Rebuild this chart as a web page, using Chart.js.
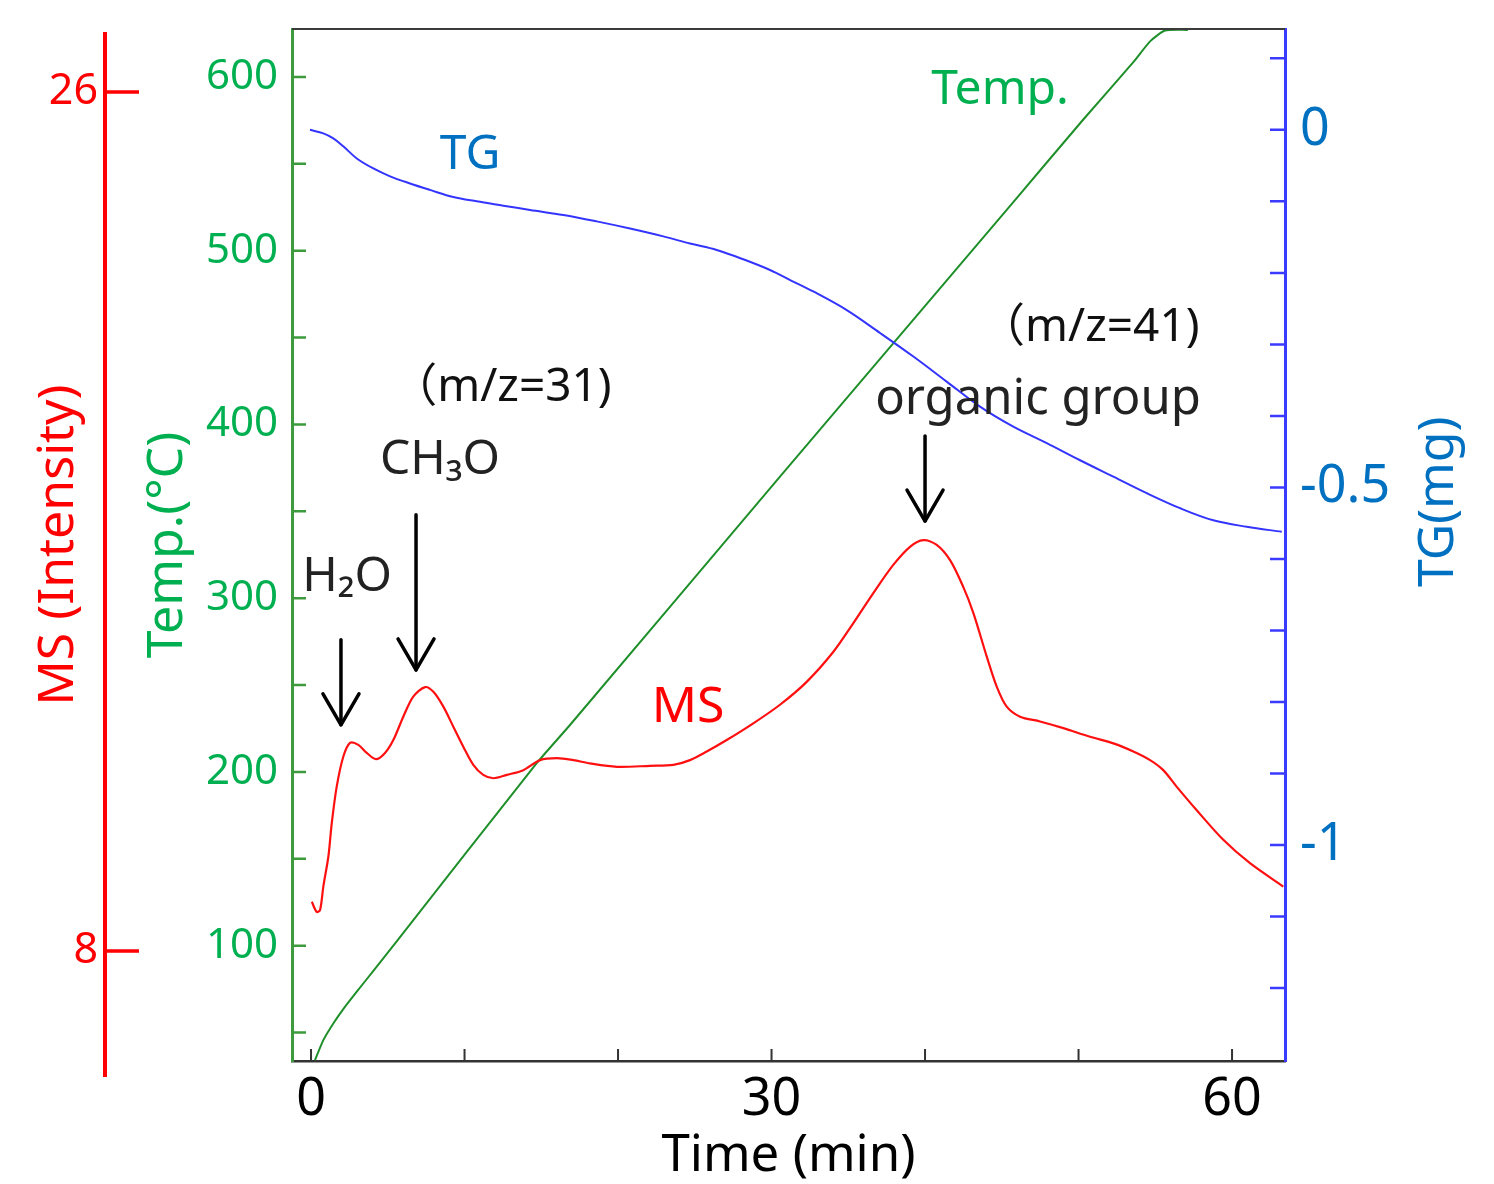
<!DOCTYPE html>
<html>
<head>
<meta charset="utf-8">
<title>TG-MS</title>
<script src="https://cdn.jsdelivr.net/npm/chart.js@4.4.1/dist/chart.umd.min.js"></script>
<style>
  html, body { margin: 0; padding: 0; background: #fff; }
  #tgms { display: block; }
</style>
</head>
<body>
<canvas id="tgms" width="1494" height="1184"></canvas>
<script>
// MS (m/z) trace, time in minutes
const msTime = [0.05, 0.37, 0.59, 0.80, 1.13, 1.35, 1.67, 2.10, 2.54, 3.08, 3.63, 4.23, 4.82, 5.36, 6.01,
  6.66, 7.43, 7.97, 8.62, 9.27, 9.92, 10.57, 11.22, 11.88, 12.75, 13.83, 14.92, 16.01, 17.09, 18.18,
  19.92, 22.08, 23.60, 24.69, 25.78, 27.08, 28.81, 30.55, 32.29, 34.03, 35.33, 36.63, 37.93, 39.02, 39.89,
  40.76, 41.63, 42.49, 43.15, 44.02, 44.67, 45.32, 46.19, 47.49, 49.01, 50.75, 52.27, 53.57, 54.66, 55.52,
  56.40, 57.70, 59.43, 61.17, 63.34];
const msValue = [9.03, 8.82, 8.86, 9.35, 9.98, 10.68, 11.44, 12.07, 12.36, 12.32, 12.15, 12.02, 12.15, 12.42, 12.91,
  13.33, 13.53, 13.43, 13.12, 12.70, 12.28, 11.90, 11.69, 11.62, 11.69, 11.79, 12.00, 12.04, 12.00, 11.93,
  11.86, 11.88, 11.90, 12.00, 12.18, 12.42, 12.77, 13.16, 13.64, 14.27, 14.87, 15.50, 16.09, 16.47, 16.61,
  16.51, 16.19, 15.63, 15.08, 14.17, 13.54, 13.12, 12.91, 12.81, 12.67, 12.49, 12.35, 12.18, 12.00, 11.79,
  11.44, 10.95, 10.33, 9.84, 9.35];

// TG (mg)
const tgTime = [-0.07, 0.80, 1.45, 2.10, 2.98, 4.06, 5.15, 6.45, 7.75, 9.27, 10.79, 12.53, 14.27, 16.44, 18.61,
  20.78, 22.95, 24.69, 26.43, 28.16, 29.90, 31.21, 32.72, 34.90, 37.07, 39.24, 41.41, 43.58, 45.75, 47.93,
  50.10, 52.27, 54.44, 56.61, 58.78, 60.96, 63.24];
const tgValue = [0, -0.005, -0.012, -0.023, -0.040, -0.054, -0.065, -0.075, -0.084, -0.094, -0.100, -0.106, -0.112, -0.119, -0.128,
  -0.138, -0.149, -0.159, -0.168, -0.181, -0.196, -0.210, -0.226, -0.252, -0.284, -0.317, -0.352, -0.387, -0.415, -0.438,
  -0.462, -0.485, -0.508, -0.529, -0.546, -0.555, -0.562];

// furnace temperature (°C)
const tempTime = [0.26, 0.80, 1.45, 2.10, 2.98, 4.06, 5.58, 14.70, 16.87, 30.55, 45.75, 50.31, 53.57, 54.66, 55.64, 57.13];
const tempValue = [34.1, 45.6, 55.2, 63.5, 73.5, 85.5, 102.5, 205.0, 227.0, 370.0, 528.0, 575.5, 608.5, 620.5, 626.7, 627.1];

// ticks
const timeTicks = [0, 10, 20, 30, 40, 50, 60];
const timeLabels = [0, 30, 60];
const tempTicks = [50, 100, 150, 200, 250, 300, 350, 400, 450, 500, 550, 600];
const tempLabels = [100, 200, 300, 400, 500, 600];
const tgTicks = [0.1, 0, -0.1, -0.2, -0.3, -0.4, -0.5, -0.6, -0.7, -0.8, -0.9, -1, -1.1, -1.2];
const tgLabels = [0, -0.5, -1];
const msTicks = [8, 26];

// notes placed in (minutes, MS intensity) coordinates
const notes = [
  { text: "TG", t: 10.36, ms: 24.68, color: "#0070c0", size: 48 },
  { text: "Temp.", t: 44.89, ms: 26.04, color: "#00b050", size: 48 },
  { text: "MS", t: 24.56, ms: 13.09, color: "#ff0000", size: 50 },
  { text: "（m/z=31)", t: 12.40, ms: 19.80, color: "#111", size: 46 },
  { text: "CH₃O", t: 8.40, ms: 18.29, color: "#222", size: 48 },
  { text: "H₂O", t: 2.35, ms: 15.82, color: "#222", size: 48 },
  { text: "（m/z=41)", t: 50.70, ms: 21.06, color: "#111", size: 46 },
  { text: "organic group", t: 47.36, ms: 19.55, color: "#222", size: 49 },
];
const arrows = [
  { t: 1.95, from: 14.52, to: 12.74 },
  { t: 6.84, from: 17.14, to: 13.89 },
  { t: 40.0, from: 18.79, to: 17.01 },
];

const FONT = '"Noto Sans", "Noto Sans CJK JP", sans-serif';
Chart.defaults.font.family = FONT;

const labelsOnly = (list) => (value) => (list.includes(value) ? String(value) : "");
const fixedTicks = (list) => (scale) => { scale.ticks = list.map((v) => ({ value: v })); };
const pairs = (xs, ys) => xs.map((x, i) => ({ x, y: ys[i] }));
// fixed box size, no overflow padding from the end labels
const boxSize = (w, h) => (s) => {
  if (w) s.width = w;
  if (h) s.height = h;
  s.paddingTop = s.paddingBottom = s.paddingLeft = s.paddingRight = 0;
};

function strokeAll(ctx, color, width, segs) {
  ctx.strokeStyle = color;
  ctx.lineWidth = width;
  ctx.beginPath();
  segs.forEach(([x1, y1, x2, y2]) => { ctx.moveTo(x1, y1); ctx.lineTo(x2, y2); });
  ctx.stroke();
}

const decor = {
  id: "decor",
  afterDraw(chart) {
    const { ctx, chartArea: area, scales } = chart;
    const { x, yT, yTG, yMS } = scales;
    ctx.save();

    strokeAll(ctx, "#3b3b3b", 2, [[area.left, area.top, area.right, area.top]]);

    // inward tick marks
    strokeAll(ctx, "#3d9b3d", 2.5, tempTicks.map((v) => {
      const p = yT.getPixelForValue(v); return [area.left, p, area.left + 14, p];
    }));
    strokeAll(ctx, "#3b3bff", 2.5, tgTicks.map((v) => {
      const p = yTG.getPixelForValue(v); return [area.right - 15, p, area.right, p];
    }));
    strokeAll(ctx, "#333", 2, timeTicks.map((v) => {
      const p = x.getPixelForValue(v); return [p, area.bottom - 12, p, area.bottom];
    }));

    // MS axis stands apart from the frame
    const msX = yMS.right - 25;
    strokeAll(ctx, "#ff0000", 4, [[msX, area.top + 3, msX, area.bottom + 16]]);
    strokeAll(ctx, "#ff0000", 3.5, msTicks.map((v) => {
      const p = yMS.getPixelForValue(v); return [msX, p, msX + 34, p];
    }));

    // right title reads bottom to top
    ctx.save();
    ctx.translate(yTG.left + 154, yTG.getPixelForValue(-0.52));
    ctx.rotate(-Math.PI / 2);
    ctx.font = `50px ${FONT}`;
    ctx.fillStyle = "#0070c0";
    ctx.textAlign = "center";
    ctx.textBaseline = "middle";
    ctx.fillText("TG(mg)", 0, 0);
    ctx.restore();

    ctx.textAlign = "center";
    ctx.textBaseline = "middle";
    notes.forEach((n) => {
      ctx.font = `${n.size}px ${FONT}`;
      ctx.fillStyle = n.color;
      ctx.fillText(n.text, x.getPixelForValue(n.t), yMS.getPixelForValue(n.ms));
    });

    ctx.lineCap = "round";
    ctx.lineJoin = "round";
    arrows.forEach((a) => {
      const px = x.getPixelForValue(a.t);
      const y1 = yMS.getPixelForValue(a.from);
      const y2 = yMS.getPixelForValue(a.to);
      strokeAll(ctx, "#000", 3.5, [[px, y1, px, y2]]);
      ctx.beginPath();
      ctx.moveTo(px - 18, y2 - 31);
      ctx.lineTo(px, y2);
      ctx.lineTo(px + 18, y2 - 31);
      ctx.stroke();
    });

    ctx.restore();
  },
};

new Chart(document.getElementById("tgms"), {
  type: "line",
  data: {
    datasets: [
      {
        label: "MS",
        data: pairs(msTime, msValue),
        yAxisID: "yMS",
        borderColor: "#ff1010",
        borderWidth: 2.2,
        pointRadius: 0,
        tension: 0.3,
      },
      {
        label: "TG",
        data: pairs(tgTime, tgValue),
        yAxisID: "yTG",
        borderColor: "#3434ff",
        borderWidth: 2,
        pointRadius: 0,
        tension: 0.35,
      },
      {
        label: "Temp.",
        data: pairs(tempTime, tempValue),
        yAxisID: "yT",
        borderColor: "#1f8f2a",
        borderWidth: 2,
        pointRadius: 0,
        tension: 0.2,
      },
    ],
  },
  options: {
    responsive: false,
    animation: false,
    devicePixelRatio: 1,
    layout: { padding: { top: 29, left: 0, right: 0, bottom: 0 } },
    plugins: { legend: { display: false }, tooltip: { enabled: false } },
    scales: {
      x: {
        type: "linear",
        position: "bottom",
        min: -1.24,
        max: 63.45,
        afterBuildTicks: fixedTicks(timeTicks),
        afterFit: boxSize(0, 123),
        grid: { display: false, drawTicks: false },
        border: { color: "#333", width: 2.5 },
        ticks: { callback: labelsOnly(timeLabels), autoSkip: false, maxRotation: 0, padding: 8, color: "#000", font: { size: 52 } },
        title: { display: true, text: "Time (min)", color: "#000", font: { size: 51, lineHeight: 1.08 }, padding: { top: 0, bottom: 0 } },
      },
      yMS: {
        type: "linear",
        position: "left",
        weight: 2,
        min: 5.695,
        max: 27.32,
        afterBuildTicks: fixedTicks(msTicks),
        afterFit: boxSize(130, 0),
        grid: { display: false, drawTicks: false },
        border: { display: false },
        ticks: { padding: 32, color: "#ff0000", font: { size: 43 } },
        title: { display: true, text: "MS (Intensity)", color: "#ff0000", font: { size: 50, lineHeight: 1.08 }, padding: { top: 32, bottom: 0 } },
      },
      yT: {
        type: "linear",
        position: "left",
        weight: 1,
        min: 33.6,
        max: 627.6,
        afterBuildTicks: fixedTicks(tempTicks),
        afterFit: boxSize(162, 0),
        grid: { display: false, drawTicks: false },
        border: { color: "#3d9b3d", width: 3 },
        ticks: { callback: labelsOnly(tempLabels), autoSkip: false, padding: 14, color: "#00b050", font: { size: 42 } },
        title: { display: true, text: "Temp.(°C)", color: "#00b050", font: { size: 50, lineHeight: 1.08 }, padding: { top: 11, bottom: 0 } },
      },
      yTG: {
        type: "linear",
        position: "right",
        min: -1.302,
        max: 0.141,
        afterBuildTicks: fixedTicks(tgTicks),
        afterFit: boxSize(209, 0),
        grid: { display: false, drawTicks: false },
        border: { color: "#3b3bff", width: 3 },
        ticks: { callback: labelsOnly(tgLabels), autoSkip: false, padding: 15, color: "#0070c0", font: { size: 52 } },
        title: { display: false },
      },
    },
  },
  plugins: [decor],
});
</script>
</body>
</html>
